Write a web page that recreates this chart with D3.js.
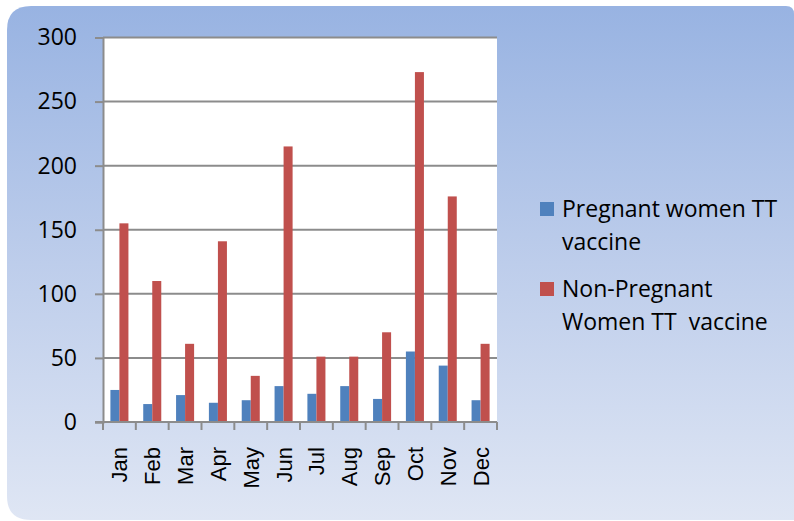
<!DOCTYPE html>
<html>
<head>
<meta charset="utf-8">
<script src="https://cdn.jsdelivr.net/npm/d3@7"></script>
<style>
  html, body { margin: 0; padding: 0; background: #ffffff; }
  svg { display: block; }
</style>
</head>
<body>
<svg id="chart" width="794" height="521"></svg>
<script>
const months = ["Jan","Feb","Mar","Apr","May","Jun","Jul","Aug","Sep","Oct","Nov","Dec"];
const pregnant = [25, 14, 21, 15, 17, 28, 22, 28, 18, 55, 44, 17];
const nonPregnant = [155, 110, 61, 141, 36, 215, 51, 51, 70, 273, 176, 61];
const seriesNames = ["Pregnant women TT vaccine", "Non-Pregnant Women TT  vaccine"];
const legendLines = [["Pregnant women TT", "vaccine"], ["Non-Pregnant", "Women TT  vaccine"]];
const seriesColors = ["#4F81BD", "#C0504D"];
const yTicks = [0, 50, 100, 150, 200, 250, 300];

const svg = d3.select("#chart");

// background panel with gradient
const defs = svg.append("defs");
const grad = defs.append("linearGradient").attr("id", "bg").attr("x1", 0).attr("y1", 0).attr("x2", 0).attr("y2", 1);
grad.append("stop").attr("offset", "0%").attr("stop-color", "#98B3E2");
grad.append("stop").attr("offset", "50%").attr("stop-color", "#BDCDEB");
grad.append("stop").attr("offset", "100%").attr("stop-color", "#DFE6F4");

const pX0 = 7, pY0 = 6, pX1 = 794, pY1 = 520;
const rTL = 24, rBL = 24, rTR = 8;
const panelPath = `M${pX0 + rTL},${pY0} L${pX1 - rTR},${pY0} Q${pX1},${pY0} ${pX1},${pY0 + rTR} L${pX1},${pY1} L${pX0 + rBL},${pY1} Q${pX0},${pY1} ${pX0},${pY1 - rBL} L${pX0},${pY0 + rTL} Q${pX0},${pY0} ${pX0 + rTL},${pY0} Z`;
svg.append("path").attr("d", panelPath).attr("fill", "url(#bg)");

// plot area
const plotL = 103, plotR = 497, plotT = 37.5, plotB = 422;
svg.append("rect").attr("x", plotL).attr("y", plotT).attr("width", plotR - plotL).attr("height", plotB - plotT).attr("fill", "#ffffff");

const x0 = d3.scaleBand().domain(months).range([plotL, plotR]).paddingInner(0).paddingOuter(0);
const groupPad = 7.4;
const x1 = d3.scaleBand().domain([0, 1]).range([groupPad, x0.bandwidth() - groupPad]).padding(0);
const y = d3.scaleLinear().domain([0, 300]).range([plotB, plotT]);

// gridlines
svg.append("g").selectAll("line").data(yTicks.filter(d => d > 0)).join("line")
  .attr("x1", plotL).attr("x2", plotR)
  .attr("y1", d => y(d)).attr("y2", d => y(d))
  .attr("stroke", "#8C8C8C").attr("stroke-width", 2);

// bars
const data = months.map((m, i) => ({ m, vals: [pregnant[i], nonPregnant[i]] }));
const groups = svg.append("g").selectAll("g").data(data).join("g")
  .attr("transform", d => `translate(${x0(d.m)},0)`);
groups.selectAll("rect").data(d => d.vals.map((v, k) => ({ v, k }))).join("rect")
  .attr("x", d => x1(d.k))
  .attr("width", x1.bandwidth())
  .attr("y", d => y(d.v))
  .attr("height", d => y(0) - y(d.v))
  .attr("fill", d => seriesColors[d.k]);

// y axis
const yAxis = d3.axisLeft(y).tickValues(yTicks).tickSize(8).tickPadding(18);
const gy = svg.append("g").attr("transform", `translate(${plotL},0)`).call(yAxis);
gy.select(".domain").attr("stroke", "#8C8C8C").attr("stroke-width", 2);
gy.selectAll(".tick line").attr("stroke", "#8C8C8C").attr("stroke-width", 2);
gy.selectAll(".tick text").attr("font-family", "'Open Sans', sans-serif").attr("font-size", 23).attr("fill", "#000");

// x axis
const xAxis = d3.axisBottom(x0).tickSize(0).tickFormat("");
const gx = svg.append("g").attr("transform", `translate(0,${plotB})`).call(xAxis);
gx.select(".domain").remove();
gx.append("line").attr("x1", plotL - 8).attr("x2", plotR).attr("y1", 0).attr("y2", 0)
  .attr("stroke", "#8C8C8C").attr("stroke-width", 2);
const boundaries = months.map(m => x0(m)).concat([plotR]);
gx.selectAll("line.bt").data(boundaries).join("line").attr("class", "bt")
  .attr("x1", d => d).attr("x2", d => d).attr("y1", 0).attr("y2", 8)
  .attr("stroke", "#8C8C8C").attr("stroke-width", 2);
gx.selectAll("text.xl").data(months).join("text").attr("class", "xl")
  .attr("transform", d => `translate(${x0(d) + x0.bandwidth() / 2},25) rotate(-90)`)
  .attr("text-anchor", "end")
  .attr("dy", "0.36em")
  .attr("font-family", "'Liberation Sans', Arial, sans-serif")
  .attr("font-size", 22)
  .attr("fill", "#000")
  .text(d => d);

// legend
const legend = svg.append("g");
const entryTop = [202, 282];
legendLines.forEach((lines, k) => {
  legend.append("rect").attr("x", 540).attr("y", entryTop[k]).attr("width", 14).attr("height", 14).attr("fill", seriesColors[k]);
  lines.forEach((ln, j) => {
    legend.append("text").attr("x", 562).attr("y", entryTop[k] + 15 + j * 32.5)
      .attr("font-family", "'Open Sans', sans-serif").attr("font-size", 23).attr("fill", "#000")
      .style("white-space", "pre")
      .text(ln);
  });
});
</script>
</body>
</html>
